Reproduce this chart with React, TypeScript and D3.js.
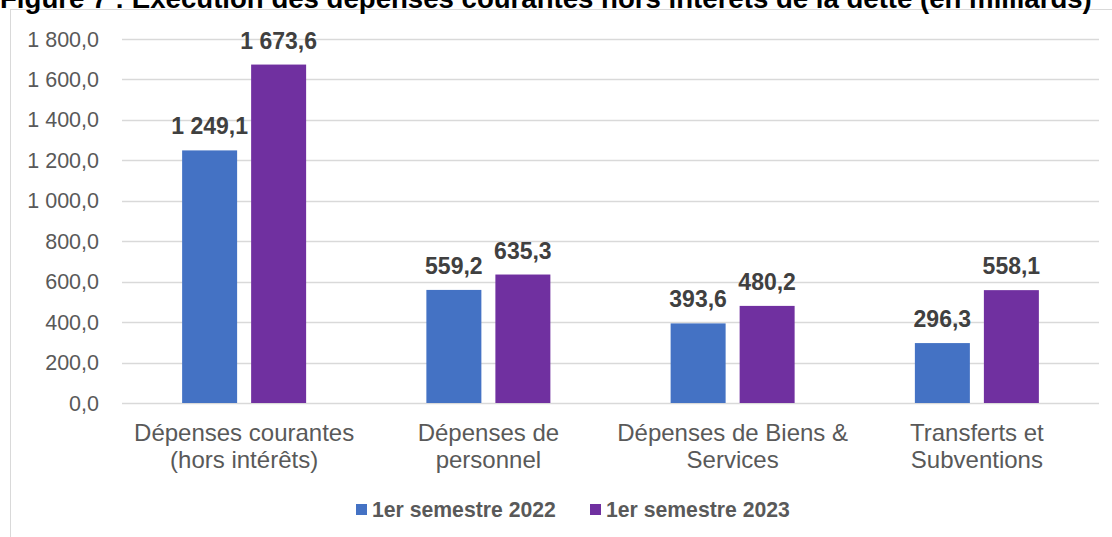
import React from "react";
import * as d3 from "d3";

const categories: string[][] = [
  ["Dépenses courantes", "(hors intérêts)"],
  ["Dépenses de", "personnel"],
  ["Dépenses de Biens &", "Services"],
  ["Transferts et", "Subventions"],
];
const seriesNames = ["1er semestre 2022", "1er semestre 2023"];
const values2022 = [1249.1, 559.2, 393.6, 296.3];
const values2023 = [1673.6, 635.3, 480.2, 558.1];
const yTicks = [0, 200, 400, 600, 800, 1000, 1200, 1400, 1600, 1800];
const colors = ["#4472C4", "#7030A0"];
const title = "Figure 7 : Exécution des dépenses courantes hors intérêts de la dette (en milliards)";

const fmt = (v: number, dec: number) => {
  const s = v.toFixed(dec);
  const [i, d] = s.split(".");
  const ii = i.replace(/\B(?=(\d{3})+(?!\d))/g, " ");
  return d ? ii + "," + d : ii;
};

export default function App() {
  const W = 1112, H = 537;
  const x0 = 122, x1 = 1099, yTop = 39, yBot = 403;
  const font = "Arial, 'Liberation Sans', Helvetica, sans-serif";
  const x = d3.scaleBand<number>().domain(d3.range(categories.length)).range([x0, x1]).padding(0);
  const y = d3.scaleLinear().domain([0, 1800]).range([yBot, yTop]);
  const inner = d3.scaleBand<number>().domain([0, 1]).range([-62, 62]).paddingInner(0.203).paddingOuter(0);
  const series = [values2022, values2023];

  return (
    <svg width={W} height={H} style={{ position: "absolute", left: 0, top: 0, background: "#fff" }} fontFamily={font}>
      <rect x={0} y={0} width={W} height={H} fill="#fff" />
      {/* frame */}
      <line x1={10} x2={W} y1={9.5} y2={9.5} stroke="#d9d9d9" strokeWidth={1} />
      <line x1={10.5} x2={10.5} y1={9} y2={H} stroke="#d9d9d9" strokeWidth={1} />
      <text x={0} y={7.5} fontSize={27.6} fontWeight="bold" fill="#000">{title}</text>
      {/* grid */}
      {yTicks.map((t) => (
        <g key={t}>
          <line x1={x0} x2={x1} y1={Math.round(y(t)) + 0.5} y2={Math.round(y(t)) + 0.5} stroke="#d9d9d9" strokeWidth={1.3} />
          <text x={99} y={y(t)} dy="0.35em" textAnchor="end" fontSize={21.5} fill="#595959">{fmt(t, 1)}</text>
        </g>
      ))}
      {/* bars */}
      {categories.map((_, ci) => {
        const cx = (x(ci) as number) + x.bandwidth() / 2;
        return (
          <g key={ci}>
            {series.map((vals, si) => {
              const bx = cx + (inner(si) as number);
              const bw = inner.bandwidth();
              return (
                <g key={si}>
                  <rect x={bx} y={y(vals[ci])} width={bw} height={y(0) - y(vals[ci])} fill={colors[si]} />
                  <text x={bx + bw / 2} y={y(vals[ci]) - 16} textAnchor="middle" fontSize={23} fontWeight="bold" fill="#404040">{fmt(vals[ci], 1)}</text>
                </g>
              );
            })}
          </g>
        );
      })}
      {/* category labels */}
      {categories.map((lines, ci) => {
        const cx = (x(ci) as number) + x.bandwidth() / 2;
        return (
          <text key={ci} x={cx} y={441} textAnchor="middle" fontSize={24} fill="#595959">
            {lines.map((l, li) => (
              <tspan key={li} x={cx} dy={li === 0 ? 0 : 27}>{l}</tspan>
            ))}
          </text>
        );
      })}
      {/* legend */}
      {seriesNames.map((n, si) => {
        const lx = [356, 590][si];
        return (
          <g key={si}>
            <rect x={lx} y={504} width={11} height={11} fill={colors[si]} />
            <text x={lx + 16} y={517} fontSize={21.2} fontWeight="bold" fill="#595959">{n}</text>
          </g>
        );
      })}
    </svg>
  );
}
